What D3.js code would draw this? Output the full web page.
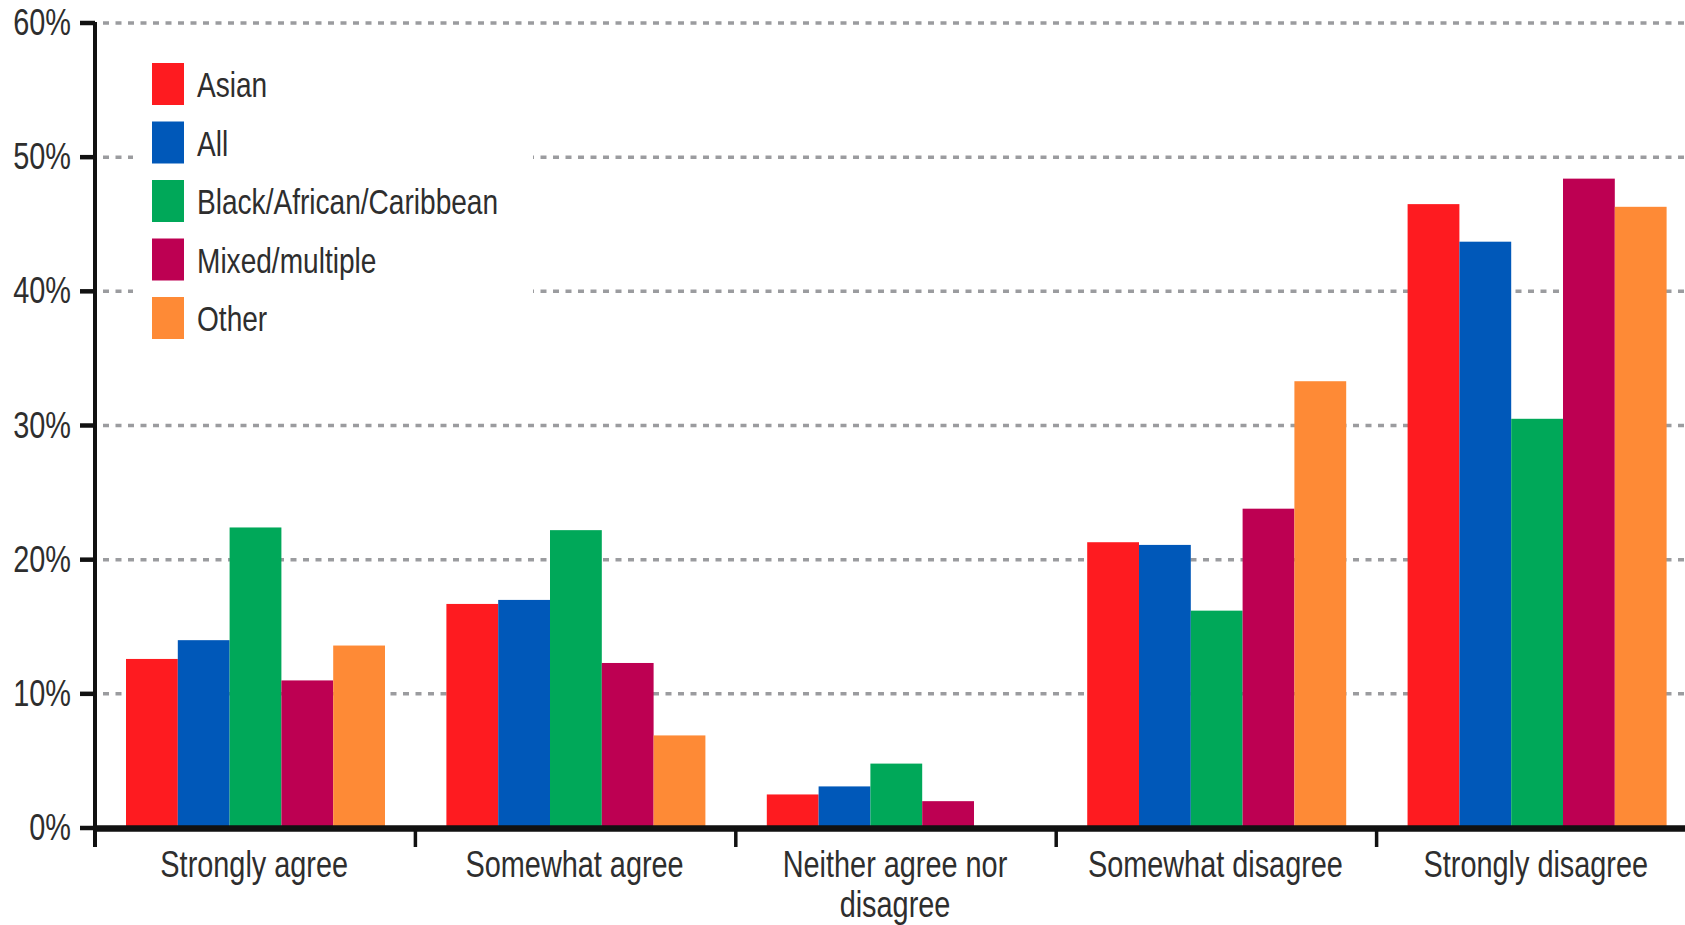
<!DOCTYPE html>
<html>
<head>
<meta charset="utf-8">
<script src="https://cdn.jsdelivr.net/npm/d3@7"></script>
<style>
  html, body { margin: 0; padding: 0; background: #fff; }
  svg { display: block; }
  text { font-family: "Liberation Sans", Arial, sans-serif; fill: #2e2e2e; }
</style>
</head>
<body>
<svg id="chart" width="1685" height="925"></svg>
<script>
// Survey response categories (x axis) and their wrapped label lines
const categories = ["Strongly agree", "Somewhat agree", "Neither agree nor disagree", "Somewhat disagree", "Strongly disagree"];
const categoryLines = [["Strongly agree"], ["Somewhat agree"], ["Neither agree nor", "disagree"], ["Somewhat disagree"], ["Strongly disagree"]];

// Ethnic groups (series) and colours
const series = ["Asian", "All", "Black/African/Caribbean", "Mixed/multiple", "Other"];
const colors = ["#fe1b20", "#0058b9", "#00a859", "#bd0052", "#fe8a36"];

// Percentage of respondents per category, one array per group
const asian = [12.6, 16.7, 2.5, 21.3, 46.5];
const all   = [14.0, 17.0, 3.1, 21.1, 43.7];
const black = [22.4, 22.2, 4.8, 16.2, 30.5];
const mixed = [11.0, 12.3, 2.0, 23.8, 48.4];
const other = [13.6, 6.9, null, 33.3, 46.3];
const seriesValues = [asian, all, black, mixed, other];

// Y axis ticks
const yTicks = [0, 10, 20, 30, 40, 50, 60];
const yTickLabels = ["0%", "10%", "20%", "30%", "40%", "50%", "60%"];

// Condensed type: regular sans squeezed horizontally
const NARROW = 0.78;
const place = (x, y) => `translate(${x},${y}) scale(${NARROW},1)`;

const svg = d3.select("#chart");

const y = d3.scaleLinear().domain([0, 60]).range([828, 23]);
const x0 = d3.scaleBand().domain(categories).range([95, 1697]).paddingInner(0).paddingOuter(0);
const x1 = d3.scaleBand().domain(series).range([31, 290]).padding(0);
const color = d3.scaleOrdinal().domain(series).range(colors);

// Dotted horizontal gridlines
svg.append("g").selectAll("line")
  .data(yTicks.filter(t => t > 0))
  .join("line")
  .attr("x1", 103).attr("x2", 1685)
  .attr("y1", d => y(d)).attr("y2", d => y(d))
  .attr("stroke", "#9b9c9f")
  .attr("stroke-width", 3.5)
  .attr("stroke-dasharray", "6,6.5");

// Legend panel (white background hides gridlines behind it)
const legend = svg.append("g");
legend.append("rect")
  .attr("x", 133).attr("y", 40).attr("width", 400).attr("height", 330)
  .attr("fill", "#fff");
const legendItems = legend.selectAll("g.item")
  .data(series)
  .join("g")
  .attr("class", "item")
  .attr("transform", (d, i) => `translate(152, ${63 + i * 58.5})`);
legendItems.append("rect")
  .attr("width", 32).attr("height", 42)
  .attr("fill", d => color(d));
legendItems.append("text")
  .attr("transform", place(45, 34))
  .attr("font-size", 36)
  .text(d => d);

// Grouped bars
const groups = svg.append("g").selectAll("g")
  .data(categories)
  .join("g")
  .attr("transform", c => `translate(${x0(c)},0)`);

groups.selectAll("rect")
  .data((c, ci) => series.map((s, si) => ({ s, v: seriesValues[si][ci] })).filter(d => d.v != null))
  .join("rect")
  .attr("x", d => x1(d.s))
  .attr("width", x1.bandwidth())
  .attr("y", d => y(d.v))
  .attr("height", d => y(0) - y(d.v))
  .attr("fill", d => color(d.s));

// Y axis
const yAxis = svg.append("g");
yAxis.append("line")
  .attr("x1", 95).attr("x2", 95)
  .attr("y1", y(60) - 1).attr("y2", 847)
  .attr("stroke", "#111").attr("stroke-width", 4);
yAxis.selectAll("line.tick")
  .data(yTicks)
  .join("line")
  .attr("class", "tick")
  .attr("x1", 80).attr("x2", 95)
  .attr("y1", d => y(d)).attr("y2", d => y(d))
  .attr("stroke", "#111").attr("stroke-width", 4.5);
yAxis.selectAll("text")
  .data(yTicks)
  .join("text")
  .attr("transform", d => place(71, y(d) + 12))
  .attr("text-anchor", "end")
  .attr("font-size", 37)
  .text((d, i) => yTickLabels[i]);

// X axis
const xAxis = svg.append("g");
xAxis.append("line")
  .attr("x1", 93).attr("x2", 1685)
  .attr("y1", 828.5).attr("y2", 828.5)
  .attr("stroke", "#111").attr("stroke-width", 6.5);
xAxis.selectAll("line.tick")
  .data(categories.slice(1))
  .join("line")
  .attr("class", "tick")
  .attr("x1", c => x0(c)).attr("x2", c => x0(c))
  .attr("y1", 828).attr("y2", 847)
  .attr("stroke", "#111").attr("stroke-width", 3.5);

const xLabels = xAxis.selectAll("text")
  .data(categories)
  .join("text")
  .attr("text-anchor", "middle")
  .attr("font-size", 37)
  .attr("transform", c => place(x0(c) + x0.bandwidth() / 2 - 1, 877));
xLabels.selectAll("tspan")
  .data((c, i) => categoryLines[i])
  .join("tspan")
  .attr("x", 0)
  .attr("y", (d, i) => i * 40)
  .text(d => d);
</script>
</body>
</html>
